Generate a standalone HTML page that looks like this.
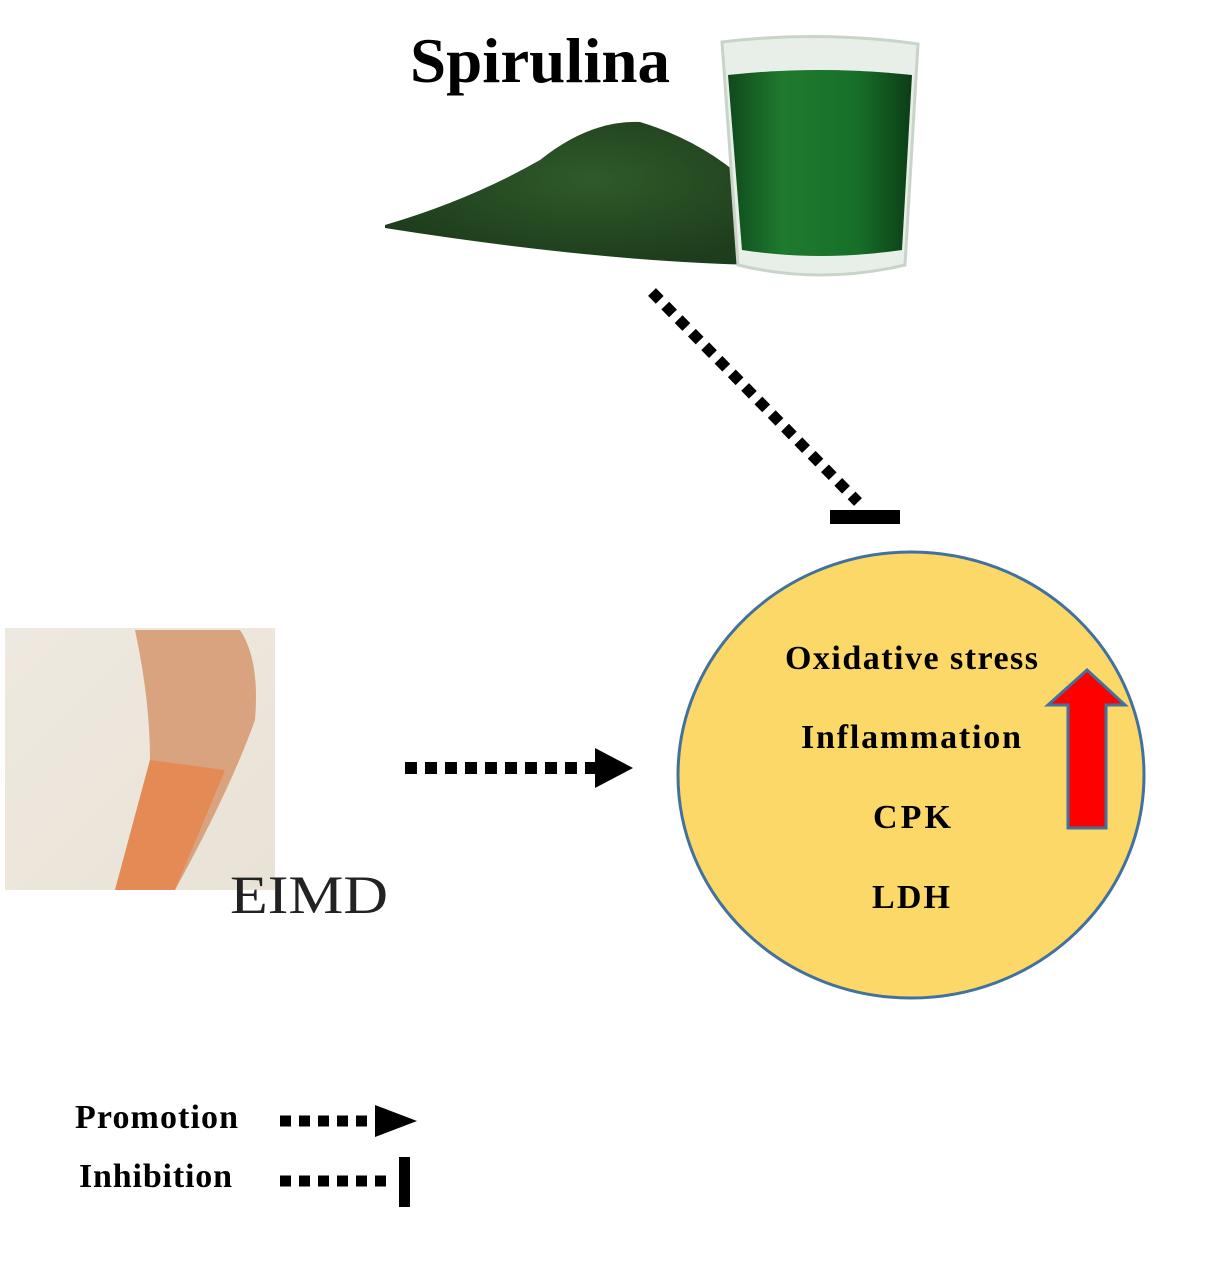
<!DOCTYPE html>
<html><head><meta charset="utf-8"><style>
html,body{margin:0;padding:0;background:#fff;}
svg{display:block;}
</style></head><body>
<svg width="1209" height="1275" viewBox="0 0 1209 1275" xmlns="http://www.w3.org/2000/svg">
<defs>
<radialGradient id="pw" cx="0.55" cy="0.4" r="0.6">
<stop offset="0" stop-color="#2f5a2a"/><stop offset="1" stop-color="#1e3d1c"/></radialGradient>
<linearGradient id="gl" x1="0" x2="1">
<stop offset="0" stop-color="#0f4a1c"/><stop offset="0.3" stop-color="#1f7a2e"/><stop offset="0.7" stop-color="#177028"/><stop offset="1" stop-color="#0c3d16"/></linearGradient>
<linearGradient id="leg" x1="0" x2="1" y1="0" y2="1">
<stop offset="0" stop-color="#eee9e0"/><stop offset="1" stop-color="#e9e2d6"/></linearGradient>
</defs>
<text x="410" y="82" textLength="260" lengthAdjust="spacingAndGlyphs" font-family="Liberation Serif,serif" font-weight="bold" font-size="64">Spirulina</text>
<path d="M385,225 Q470,200 540,160 Q590,120 640,122 Q700,140 745,180 L760,265 Q600,262 385,228 Z" fill="url(#pw)"/>
<path d="M722,42 Q820,30 918,44 L905,265 Q820,285 738,265 Z" fill="#e8efe8" stroke="#c9d4c9" stroke-width="3"/>
<path d="M728,75 Q820,65 912,75 L902,250 Q820,262 742,250 Z" fill="url(#gl)"/>
<line x1="652" y1="292" x2="858" y2="502" stroke="#000" stroke-width="11" stroke-dasharray="11,8"/>
<rect x="830" y="510" width="70" height="14" fill="#000"/>
<ellipse cx="911" cy="775" rx="233" ry="223" fill="#FCD869" stroke="#41719C" stroke-width="3"/>
<g font-family="Liberation Serif,serif" font-weight="bold" font-size="34" lengthAdjust="spacing">
<text x="785" y="669" textLength="253">Oxidative stress</text>
<text x="801" y="748" textLength="220">Inflammation</text>
<text x="873" y="828" textLength="78">CPK</text>
<text x="872" y="908" textLength="78">LDH</text>
</g>
<path d="M1087,670 L1125,705 L1106,705 L1106,828 L1068,828 L1068,705 L1048,705 Z" fill="#f00" stroke="#41719C" stroke-width="3"/>
<line x1="405" y1="768" x2="595" y2="768" stroke="#000" stroke-width="12" stroke-dasharray="12,8"/>
<path d="M595,748 L633,768 L595,788 Z" fill="#000"/>
<rect x="5" y="628" width="270" height="262" fill="url(#leg)"/>
<path d="M135,630 Q150,700 150,760 L115,890 L175,890 Q230,790 255,720 Q260,660 240,630 Z" fill="#d9a37f"/>
<path d="M150,760 L115,890 L175,890 L225,770 Z" fill="#e38a55"/>
<text x="230" y="913" textLength="158" lengthAdjust="spacingAndGlyphs" font-family="Liberation Serif,serif" font-size="54" fill="#222">EIMD</text>
<g font-family="Liberation Serif,serif" font-weight="bold" font-size="34" lengthAdjust="spacingAndGlyphs">
<text x="75" y="1128" textLength="163">Promotion</text>
<text x="79" y="1187" textLength="153">Inhibition</text>
</g>
<line x1="280" y1="1121" x2="375" y2="1121" stroke="#000" stroke-width="11" stroke-dasharray="11,8"/>
<path d="M375,1105 L417,1121 L375,1137 Z" fill="#000"/>
<line x1="280" y1="1181" x2="386" y2="1181" stroke="#000" stroke-width="11" stroke-dasharray="11,8"/>
<rect x="399" y="1157" width="11" height="50" fill="#000"/>
</svg>
</body></html>
